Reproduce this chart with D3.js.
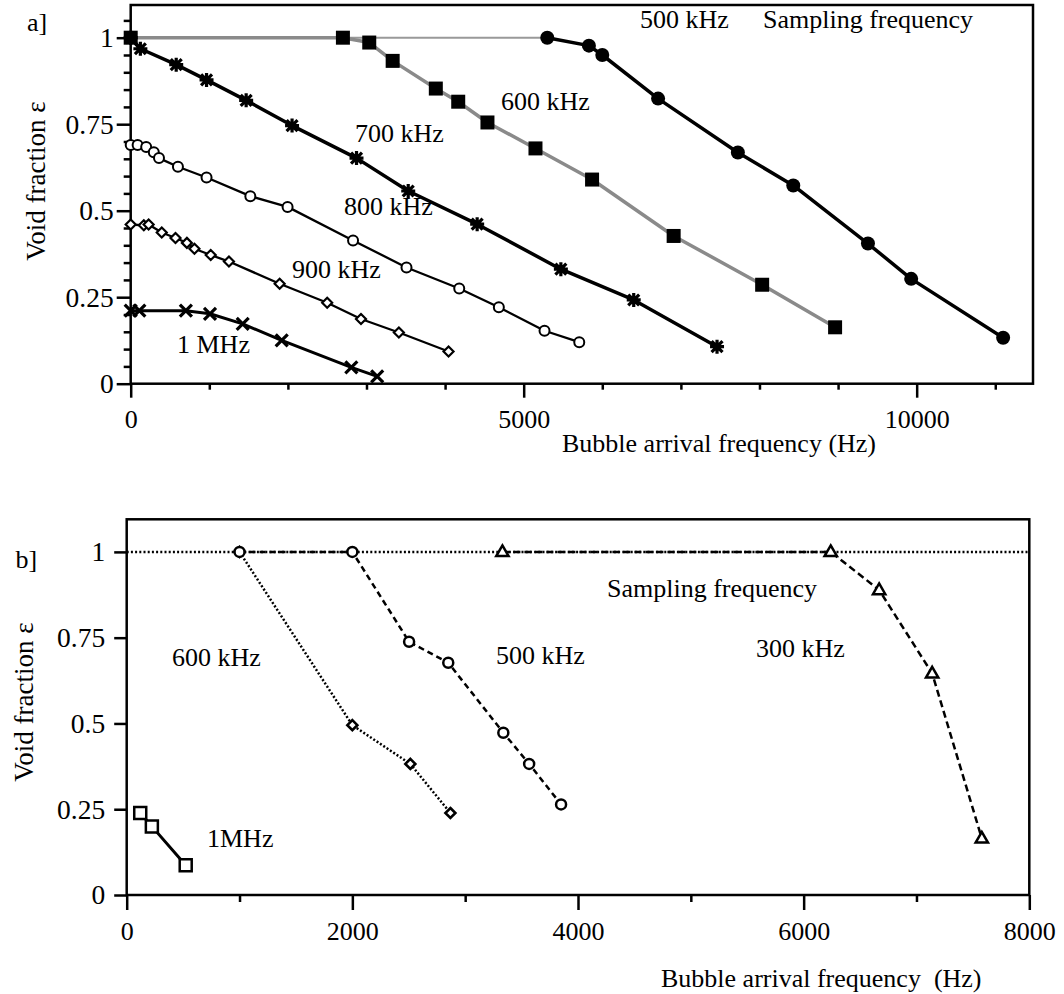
<!DOCTYPE html>
<html lang="en">
<head>
<meta charset="UTF-8">
<title>Void fraction vs bubble arrival frequency</title>
<style>
  body { margin: 0; background: #fff; }
  svg { display: block; font-family: "Liberation Serif", "Times New Roman", serif; }
  .tick text { font-size: 26px; fill: #000; font-family: "Liberation Serif", serif; }
  .yax .tick text { font-size: 27.5px; }
  .tick line { stroke: #000; stroke-width: 2.5; }
  .lbl { font-size: 26px; fill: #000; }
  .ttl { font-size: 26px; fill: #000; }
</style>
</head>
<body>
<svg width="1064" height="994"></svg>
<script src="https://d3js.org/d3.v7.min.js"></script>
<script>
// data points are [bubble arrival frequency (Hz), void fraction]

// panel a]
const aSampling = [[0, 1], [5300, 1]];
const a500 = [[5300, 1.0], [5830, 0.977], [6000, 0.95], [6710, 0.824], [7725, 0.668],
              [8430, 0.573], [9380, 0.405], [9930, 0.303], [11100, 0.133]];
const a600 = [[0, 1.0], [2700, 1.0], [3035, 0.986], [3333, 0.933], [3882, 0.853], [4167, 0.815],
              [4539, 0.755], [5150, 0.68], [5870, 0.59], [6908, 0.427], [8034, 0.286], [8962, 0.163]];
const a700 = [[0, 1.0], [123, 0.968], [579, 0.922], [965, 0.878], [1469, 0.819], [2053, 0.746],
              [2873, 0.652], [3531, 0.557], [4408, 0.461], [5473, 0.331], [6400, 0.242], [7460, 0.107]];
const a800 = [[0, 0.69], [88, 0.69], [197, 0.684], [294, 0.669], [360, 0.652], [601, 0.627],
              [965, 0.596], [1522, 0.542], [1996, 0.511], [2829, 0.414], [3509, 0.336],
              [4180, 0.275], [4684, 0.221], [5265, 0.153], [5707, 0.12]];
const a900 = [[0, 0.46], [167, 0.458], [228, 0.46], [395, 0.437], [570, 0.421], [715, 0.407],
              [811, 0.39], [1018, 0.372], [1250, 0.353], [1895, 0.289], [2500, 0.234],
              [2930, 0.187], [3412, 0.148], [4044, 0.093]];
const a1M = [[0, 0.211], [110, 0.211], [702, 0.211], [1009, 0.202], [1425, 0.173],
             [1921, 0.125], [2807, 0.047], [3136, 0.021]];

// panel b]
const bSampling = [[0, 1], [8000, 1]];
const b600 = [[1000, 1.0], [2000, 0.495], [2514, 0.382], [2869, 0.239]];
const b500 = [[1000, 1.0], [2000, 1.0], [2503, 0.738], [2850, 0.677], [3338, 0.473],
              [3567, 0.382], [3850, 0.264]];
const b300 = [[3330, 1.0], [6240, 1.0], [6669, 0.889], [7139, 0.646], [7579, 0.165]];
const b1M = [[120, 0.239], [223, 0.2], [523, 0.087]];

// ticks
const aXMajor = [0, 5000, 10000];
const aXMinor = [1000, 2000, 3000, 4000, 6000, 7000, 8000, 9000, 11000];
const aYMajor = [0, 0.25, 0.5, 0.75, 1];
const aYMinor = [0.05, 0.1, 0.15, 0.2, 0.3, 0.35, 0.4, 0.45, 0.55, 0.6, 0.65, 0.7,
                 0.8, 0.85, 0.9, 0.95, 1.05];
const bXMajor = [0, 2000, 4000, 6000, 8000];
const bXMinor = [1000, 3000, 5000, 7000];
const bYMajor = [0, 0.25, 0.5, 0.75, 1];

const svg = d3.select("svg");

// marker shapes (size = half width squared)
const symX = { draw(c, s) { const r = Math.sqrt(s);
  c.moveTo(-r, -r); c.lineTo(r, r); c.moveTo(r, -r); c.lineTo(-r, r); } };
const symAst = { draw(c, s) { const r = Math.sqrt(s), q = r * 0.78;
  c.moveTo(0, -r); c.lineTo(0, r); c.moveTo(-r, 0); c.lineTo(r, 0);
  c.moveTo(-q, -q); c.lineTo(q, q); c.moveTo(q, -q); c.lineTo(-q, q); } };
const symDiam = { draw(c, s) { const r = Math.sqrt(s);
  c.moveTo(0, -r); c.lineTo(r, 0); c.lineTo(0, r); c.lineTo(-r, 0); c.closePath(); } };
const symSq = { draw(c, s) { const r = Math.sqrt(s);
  c.rect(-r, -r, 2 * r, 2 * r); } };
const symCirc = { draw(c, s) { const r = Math.sqrt(s);
  c.moveTo(r, 0); c.arc(0, 0, r, 0, 2 * Math.PI); } };
const symTri = { draw(c, s) { const r = Math.sqrt(s);
  c.moveTo(0, -r); c.lineTo(r * 0.95, r * 0.65); c.lineTo(-r * 0.95, r * 0.65); c.closePath(); } };

function drawAxes(x, y, xMaj, xMin, yMaj, yMin, o) {
  const g = svg.append("g");
  g.append("rect")
    .attr("x", x.range()[0]).attr("y", y.range()[1])
    .attr("width", x.range()[1] - x.range()[0])
    .attr("height", y.range()[0] - y.range()[1])
    .attr("fill", "none").attr("stroke", "#000").attr("stroke-width", 2.5);

  g.append("g").attr("transform", `translate(0,${y(0)})`)
    .call(d3.axisBottom(x).tickValues(xMin).tickSize(o.xMinor).tickFormat(""))
    .call(a => a.select(".domain").remove());
  g.append("g").attr("transform", `translate(0,${y(0)})`)
    .call(d3.axisBottom(x).tickValues(xMaj).tickSize(o.xMajor).tickPadding(o.xPad)
      .tickFormat(d => String(d)))
    .call(a => a.select(".domain").remove());

  if (yMin.length) {
    g.append("g").attr("transform", `translate(${x(0)},0)`)
      .call(d3.axisLeft(y).tickValues(yMin).tickSize(7).tickFormat(""))
      .call(a => a.select(".domain").remove());
  }
  g.append("g").attr("class", "yax").attr("transform", `translate(${x(0)},0)`)
    .call(d3.axisLeft(y).tickValues(yMaj).tickSize(o.yMajor).tickPadding(o.yPad)
      .tickFormat(d => String(d)))
    .call(a => a.select(".domain").remove());
  g.selectAll(".tick text").attr("font-family", null).attr("font-size", null);
}

function series(x, y, data, st) {
  const line = d3.line().x(d => x(d[0])).y(d => y(d[1]));
  svg.append("path").datum(data)
    .attr("d", line)
    .attr("fill", "none")
    .attr("stroke", st.color || "#000")
    .attr("stroke-width", st.width)
    .attr("stroke-dasharray", st.dash || null)
    .attr("stroke-linejoin", "round");
  if (!st.sym) return;
  const sym = d3.symbol().type(st.sym).size(st.size);
  svg.append("g").selectAll("path").data(data).join("path")
    .attr("transform", d => `translate(${x(d[0])},${y(d[1])})`)
    .attr("d", sym)
    .attr("fill", st.fill)
    .attr("stroke", "#000")
    .attr("stroke-width", st.sw);
}

function label(txt, x, y, cls) {
  svg.append("text").attr("class", cls || "lbl").attr("x", x).attr("y", y).text(txt);
}

// ---------- panel a] ----------
const ax = d3.scaleLinear().domain([0, 11480]).range([130.7, 1033]);
const ay = d3.scaleLinear().domain([0, 1.0945]).range([383.7, 5]);
drawAxes(ax, ay, aXMajor, aXMinor, aYMajor, aYMinor,
  { xMinor: 6, xMajor: 14, xPad: 12, yMajor: 14, yPad: 3 });

series(ax, ay, aSampling, { color: "#999", width: 2 });
series(ax, ay, a1M, { width: 3, sym: symX, size: 36, fill: "none", sw: 3.2 });
series(ax, ay, a900, { width: 2.3, sym: symDiam, size: 25, fill: "#fff", sw: 2.2 });
series(ax, ay, a800, { width: 2.3, sym: symCirc, size: 25, fill: "#fff", sw: 2 });
series(ax, ay, a600, { color: "#8a8a8a", width: 3.5, sym: symSq, size: 49, fill: "#000", sw: 0 });
series(ax, ay, a700, { width: 3.5, sym: symAst, size: 49, fill: "none", sw: 3.2 });
series(ax, ay, a500, { width: 3.5, sym: symCirc, size: 49, fill: "#000", sw: 0 });

label("a]", 27, 31);
label("500 kHz", 640, 28);
label("Sampling frequency", 763, 28);
label("600 kHz", 501, 110);
label("700 kHz", 355, 142);
label("800 kHz", 344, 215);
label("900 kHz", 292, 278);
label("1 MHz", 177, 353);

svg.append("text").attr("class", "ttl").attr("x", 562).attr("y", 452)
  .text("Bubble arrival frequency (Hz)");
svg.append("text").attr("class", "ttl")
  .attr("transform", "translate(44.5,181) rotate(-90)")
  .attr("text-anchor", "middle").style("font-size", "27px")
  .text("Void fraction ε");

// ---------- panel b] ----------
const bx = d3.scaleLinear().domain([0, 8000]).range([126.7, 1029.3]);
const by = d3.scaleLinear().domain([0, 1.095]).range([895, 519.3]);
drawAxes(bx, by, bXMajor, bXMinor, bYMajor, [],
  { xMinor: 7, xMajor: 15, xPad: 12, yMajor: 12.5, yPad: 9 });

series(bx, by, bSampling, { width: 2.5, dash: "2,2.2" });
series(bx, by, b1M, { width: 3, sym: symSq, size: 36, fill: "#fff", sw: 2.5 });
series(bx, by, b600, { width: 2.5, dash: "2,2", sym: symDiam, size: 25, fill: "#fff", sw: 2.6 });
series(bx, by, b500, { width: 2.5, dash: "6,4", sym: symCirc, size: 25, fill: "#fff", sw: 2.5 });
series(bx, by, b300, { width: 2.5, dash: "7,4", sym: symTri, size: 42, fill: "#fff", sw: 2.5 });

label("b]", 15.5, 568);
label("600 kHz", 172, 666);
label("500 kHz", 496, 664);
label("Sampling frequency", 607, 597);
label("300 kHz", 756, 657);
label("1MHz", 207, 847);

svg.append("text").attr("class", "ttl").attr("x", 661).attr("y", 987)
  .attr("xml:space", "preserve").style("white-space", "pre")
  .text("Bubble arrival frequency  (Hz)");
svg.append("text").attr("class", "ttl")
  .attr("transform", "translate(32.5,702) rotate(-90)")
  .attr("text-anchor", "middle").style("font-size", "27px")
  .text("Void fraction ε");
</script>
</body>
</html>
